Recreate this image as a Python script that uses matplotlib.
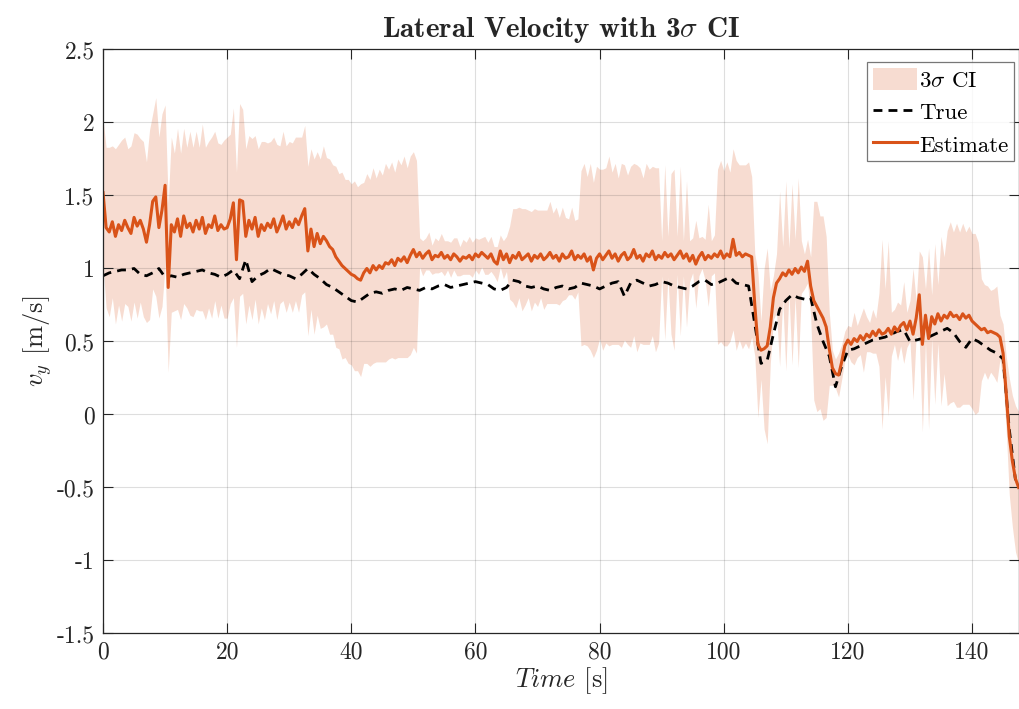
import numpy as np
import matplotlib
matplotlib.use("Agg")
import matplotlib.pyplot as plt
from matplotlib.patches import Patch
from matplotlib.lines import Line2D

plt.rcParams['font.family'] = 'serif'
plt.rcParams['font.serif'] = ['cmr10']
plt.rcParams['mathtext.fontset'] = 'cm'
plt.rcParams['axes.unicode_minus'] = False
plt.rcParams['axes.formatter.use_mathtext'] = True

# sample times (0.5 s grid) for estimate and CI half-width
t_est = np.arange(0, 148, 0.5)
estimate = [
    1.52, 1.28, 1.25, 1.32, 1.22, 1.30, 1.26, 1.33, 1.28, 1.24, 1.35, 1.29, 1.33, 1.27, 1.18, 1.30, 1.46, 1.49, 1.28, 1.40,
    1.57, 0.87, 1.30, 1.25, 1.34, 1.22, 1.36, 1.28, 1.31, 1.25, 1.33, 1.27, 1.35, 1.24, 1.30, 1.28, 1.36, 1.26, 1.30, 1.27,
    1.28, 1.34, 1.45, 1.06, 1.47, 1.46, 1.22, 1.33, 1.27, 1.35, 1.22, 1.30, 1.26, 1.31, 1.28, 1.34, 1.25, 1.30, 1.36, 1.27,
    1.32, 1.28, 1.34, 1.30, 1.36, 1.41, 1.12, 1.27, 1.15, 1.24, 1.17, 1.22, 1.19, 1.15, 1.13, 1.08, 1.05, 1.02, 1.00, 0.98,
    0.96, 0.95, 0.93, 0.92, 0.97, 1.00, 0.97, 1.02, 0.99, 1.02, 1.00, 1.04, 1.03, 1.06, 1.02, 1.07, 1.05, 1.08, 1.04, 1.09,
    1.13, 1.08, 1.11, 1.07, 1.10, 1.12, 1.06, 1.09, 1.08, 1.11, 1.07, 1.09, 1.06, 1.10, 1.08, 1.05, 1.08, 1.07, 1.09, 1.06,
    1.10, 1.08, 1.11, 1.09, 1.07, 1.10, 1.05, 1.03, 1.12, 1.06, 1.10, 1.04, 1.09, 1.07, 1.11, 1.06, 1.08, 1.10, 1.05, 1.09,
    1.07, 1.10, 1.06, 1.08, 1.11, 1.07, 1.09, 1.05, 1.10, 1.07, 1.08, 1.12, 1.06, 1.09, 1.07, 1.10, 1.05, 1.08, 0.99, 1.07,
    1.10, 1.06, 1.09, 1.12, 1.07, 1.10, 1.05, 1.09, 1.11, 1.06, 1.08, 1.13, 1.07, 1.09, 1.05, 1.10, 1.08, 1.12, 1.06, 1.09,
    1.07, 1.11, 1.08, 1.10, 1.06, 1.09, 1.12, 1.07, 1.10, 1.05, 1.09, 1.03, 1.08, 1.11, 1.06, 1.09, 1.07, 1.10, 1.08, 1.12,
    1.07, 1.10, 1.08, 1.20, 1.09, 1.11, 1.08, 1.10, 1.09, 1.08, 0.75, 0.48, 0.44, 0.45, 0.47, 0.60, 0.80, 0.90, 0.93, 0.97,
    0.95, 0.99, 0.96, 1.00, 0.97, 1.01, 0.98, 1.05, 0.88, 0.78, 0.74, 0.70, 0.66, 0.60, 0.45, 0.32, 0.28, 0.27, 0.36, 0.47,
    0.51, 0.48, 0.52, 0.50, 0.54, 0.51, 0.55, 0.53, 0.57, 0.54, 0.58, 0.55, 0.56, 0.59, 0.55, 0.60, 0.57, 0.61, 0.63, 0.58,
    0.64, 0.55, 0.66, 0.82, 0.48, 0.68, 0.52, 0.67, 0.62, 0.69, 0.64, 0.68, 0.66, 0.70, 0.67, 0.68, 0.65, 0.69, 0.66, 0.68,
    0.64, 0.62, 0.60, 0.58, 0.59, 0.56, 0.57, 0.56, 0.55, 0.53, 0.42, 0.15, -0.15, -0.32, -0.44, -0.50,
]
ci_halfwidth = [
    0.50, 0.55, 0.58, 0.52, 0.60, 0.55, 0.62, 0.57, 0.54, 0.60, 0.58, 0.63, 0.56, 0.60, 0.55, 0.65, 0.60, 0.68, 0.62, 0.66,
    0.55, 0.58, 0.60, 0.54, 0.62, 0.57, 0.60, 0.55, 0.63, 0.58, 0.61, 0.56, 0.64, 0.59, 0.57, 0.62, 0.58, 0.60, 0.55, 0.61,
    0.62, 0.58, 0.65, 0.60, 0.66, 0.63, 0.60, 0.58, 0.62, 0.56, 0.60, 0.57, 0.61, 0.55, 0.59, 0.56, 0.60, 0.54, 0.58, 0.57,
    0.55, 0.58, 0.56, 0.60, 0.54, 0.57, 0.58, 0.55, 0.60, 0.56, 0.58, 0.62, 0.57, 0.60, 0.58, 0.62, 0.60, 0.64, 0.61, 0.63,
    0.62, 0.65, 0.63, 0.66, 0.62, 0.65, 0.64, 0.67, 0.63, 0.66, 0.64, 0.68, 0.65, 0.67, 0.64, 0.68, 0.66, 0.69, 0.65, 0.68,
    0.67, 0.66, 0.10, 0.12, 0.11, 0.13, 0.10, 0.12, 0.11, 0.13, 0.12, 0.10, 0.12, 0.11, 0.13, 0.10, 0.12, 0.11, 0.13, 0.12,
    0.11, 0.12, 0.10, 0.13, 0.11, 0.12, 0.10, 0.12, 0.11, 0.13, 0.12, 0.25, 0.32, 0.34, 0.31, 0.35, 0.33, 0.30, 0.34, 0.32,
    0.33, 0.30, 0.34, 0.32, 0.35, 0.31, 0.33, 0.30, 0.32, 0.28, 0.26, 0.30, 0.27, 0.25, 0.60, 0.62, 0.58, 0.64, 0.60, 0.63,
    0.58, 0.62, 0.60, 0.65, 0.59, 0.62, 0.57, 0.63, 0.60, 0.58, 0.62, 0.59, 0.64, 0.60, 0.57, 0.62, 0.60, 0.58, 0.63, 0.60,
    0.12, 0.60, 0.14, 0.55, 0.62, 0.13, 0.58, 0.12, 0.50, 0.14, 0.12, 0.30, 0.13, 0.11, 0.14, 0.35, 0.12, 0.13, 0.60, 0.62,
    0.60, 0.63, 0.58, 0.62, 0.65, 0.60, 0.63, 0.61, 0.64, 0.55, 0.35, 0.50, 0.20, 0.55, 0.67, 0.25, 0.15, 0.20, 0.60, 0.18,
    0.65, 0.15, 0.62, 0.20, 0.65, 0.18, 0.12, 0.15, 0.20, 0.68, 0.72, 0.66, 0.70, 0.62, 0.25, 0.12, 0.10, 0.15, 0.12, 0.10,
    0.10, 0.12, 0.18, 0.11, 0.13, 0.22, 0.12, 0.10, 0.15, 0.12, 0.25, 0.65, 0.30, 0.60, 0.15, 0.12, 0.20, 0.14, 0.28, 0.12,
    0.14, 0.45, 0.12, 0.30, 0.60, 0.18, 0.62, 0.15, 0.55, 0.20, 0.58, 0.40, 0.60, 0.62, 0.58, 0.63, 0.60, 0.62, 0.59, 0.61,
    0.60, 0.62, 0.58, 0.35, 0.30, 0.32, 0.28, 0.30, 0.33, 0.15, 0.20, 0.25, 0.40, 0.45, 0.50, 0.52,
]

# true lateral velocity (1 s grid)
t_true = np.arange(0, 148, 1.0)
true_vy = [
    0.95, 0.97, 0.98, 0.99, 0.99, 1.00, 0.96, 0.95, 0.97, 1.00,
    0.94, 0.95, 0.94, 0.96, 0.97, 0.98, 0.99, 0.97, 0.96, 0.94,
    0.96, 0.99, 0.93, 1.06, 0.91, 0.95, 0.97, 1.00, 0.98, 0.96,
    0.95, 0.93, 0.96, 1.00, 0.96, 0.93, 0.89, 0.87, 0.84, 0.81,
    0.78, 0.77, 0.80, 0.83, 0.84, 0.83, 0.85, 0.86, 0.85, 0.87,
    0.86, 0.85, 0.87, 0.86, 0.88, 0.89, 0.87, 0.88, 0.89, 0.90,
    0.91, 0.90, 0.89, 0.86, 0.85, 0.87, 0.92, 0.91, 0.88, 0.87,
    0.88, 0.86, 0.85, 0.87, 0.88, 0.86, 0.87, 0.90, 0.89, 0.88,
    0.86, 0.88, 0.90, 0.91, 0.81, 0.90, 0.92, 0.90, 0.88, 0.89,
    0.91, 0.90, 0.88, 0.87, 0.86, 0.88, 0.91, 0.92, 0.89, 0.90,
    0.92, 0.94, 0.90, 0.89, 0.88, 0.62, 0.35, 0.37, 0.55, 0.72,
    0.78, 0.82, 0.80, 0.79, 0.80, 0.62, 0.50, 0.40, 0.19, 0.33,
    0.44, 0.45, 0.47, 0.49, 0.51, 0.52, 0.53, 0.55, 0.57, 0.58,
    0.50, 0.51, 0.52, 0.53, 0.55, 0.57, 0.59, 0.56, 0.50, 0.46,
    0.52, 0.50, 0.47, 0.44, 0.42, 0.38, -0.10, -0.45,
]

x_ticks = [0, 20, 40, 60, 80, 100, 120, 140]
y_ticks = [-1.5, -1, -0.5, 0, 0.5, 1, 1.5, 2, 2.5]
y_tick_labels = ['-1.5', '-1', '-0.5', '0', '0.5', '1', '1.5', '2', '2.5']

est = np.array(estimate)
hw = np.array(ci_halfwidth)

fig = plt.figure(figsize=(10.19, 7.09), dpi=100)
ax = fig.add_axes([0.1011, 0.1065, 0.8985, 0.8237])

orange = '#D95319'
ax.fill_between(t_est, est - hw, est + hw, color=orange, alpha=0.2,
                linewidth=0, label=r'3$\sigma$ CI')
ax.plot(t_true, true_vy, color='black', linewidth=2.0, dashes=(3.2, 2.2), label='True')
ax.plot(t_est, est, color=orange, linewidth=2.2, label='Estimate')

ax.set_xlim(0, 147.5)
ax.set_ylim(-1.5, 2.5)
ax.set_xticks(x_ticks)
ax.set_xticklabels([str(v) for v in x_ticks])
ax.set_yticks(y_ticks)
ax.set_yticklabels(y_tick_labels)
ax.tick_params(direction='in', length=7, width=0.8, top=True, right=True,
               labelsize=17, colors='#262626', pad=6)
ax.grid(True, color='#262626', alpha=0.15, linewidth=0.8)
for s in ax.spines.values():
    s.set_color('#262626')
    s.set_linewidth(0.9)

ax.set_xlabel(r'$Time$ [s]', fontsize=19, color='#262626', labelpad=1)
ax.set_ylabel(r'$v_y$ [m/s]', fontsize=19, color='#262626', labelpad=2)
ax.set_title(r'Lateral Velocity with 3$\sigma$ CI', fontsize=21, family='cmb10',
             color='#262626', pad=9)

handles = [Patch(facecolor=orange, alpha=0.2, edgecolor='none', label=r'3$\sigma$ CI'),
           Line2D([], [], color='black', linewidth=2.0, dashes=(3.2, 2.2), label='True'),
           Line2D([], [], color=orange, linewidth=2.2, label='Estimate')]
leg = ax.legend(handles=handles, loc='upper right', bbox_to_anchor=(0.995, 0.978),
                fontsize=16.5, frameon=True, fancybox=False, borderpad=0.25,
                handlelength=1.95, handleheight=1.1, handletextpad=0.08,
                labelspacing=0.42, borderaxespad=0.0)
leg.get_frame().set_edgecolor('#555555')
leg.get_frame().set_linewidth(0.9)

fig.savefig('out.png', dpi=100)
